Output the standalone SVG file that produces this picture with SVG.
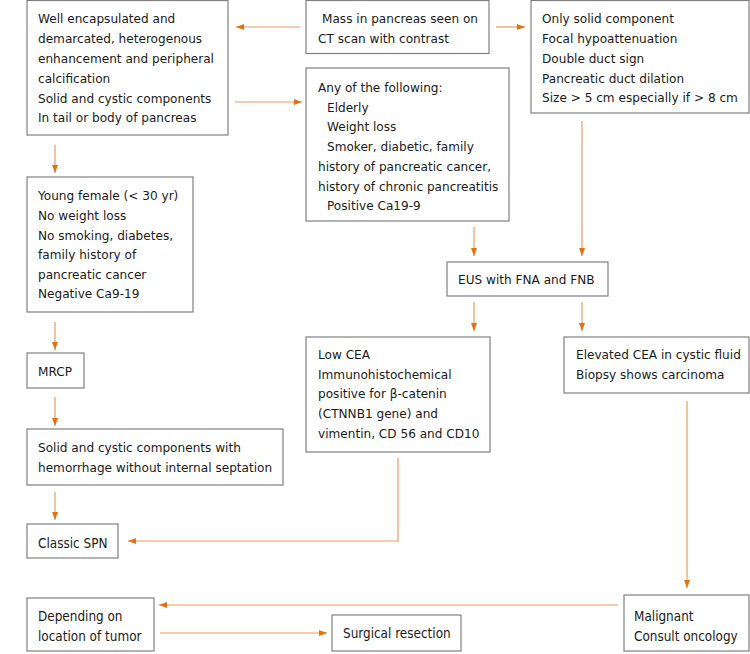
<svg xmlns="http://www.w3.org/2000/svg" width="750" height="654" viewBox="0 0 750 654">
<defs>
<style>
.box{fill:#fff;stroke:#808080;stroke-width:1.2}
.t{font-family:"DejaVu Sans",Verdana,sans-serif;font-size:12.1px;fill:#1a1a1a}
.c{font-family:"DejaVu Sans Condensed","DejaVu Sans",sans-serif;font-size:13.4px;fill:#1a1a1a}
.ln{fill:none;stroke:#EE9A5A;stroke-width:1.2}
</style>
<marker id="ah" viewBox="0 0 8 6" refX="8" refY="3" markerWidth="8" markerHeight="6" markerUnits="userSpaceOnUse" orient="auto">
<path d="M0,0 L8,3 L0,6 Z" fill="#E4700F"/>
</marker>
</defs>
<rect width="750" height="654" fill="#fff"/>
<g id="connectors">
<path class="ln" d="M300,27 H236" marker-end="url(#ah)"/>
<path class="ln" d="M235,102 H302" marker-end="url(#ah)"/>
<path class="ln" d="M496,27 H525" marker-end="url(#ah)"/>
<path class="ln" d="M55,145 V173" marker-end="url(#ah)"/>
<path class="ln" d="M55,322 V350" marker-end="url(#ah)"/>
<path class="ln" d="M55,397 V426" marker-end="url(#ah)"/>
<path class="ln" d="M55,492 V520" marker-end="url(#ah)"/>
<path class="ln" d="M474,227 V256" marker-end="url(#ah)"/>
<path class="ln" d="M582,121 V256" marker-end="url(#ah)"/>
<path class="ln" d="M474,302 V331" marker-end="url(#ah)"/>
<path class="ln" d="M582,302 V331" marker-end="url(#ah)"/>
<path class="ln" d="M398,458 V541 H128" marker-end="url(#ah)"/>
<path class="ln" d="M687,401 V588" marker-end="url(#ah)"/>
<path class="ln" d="M618,605 H159" marker-end="url(#ah)"/>
<path class="ln" d="M160,633 H327" marker-end="url(#ah)"/>
</g>
<g id="n1"><rect class="box" x="27" y="0.5" width="201" height="134.5"/>
<text class="t" x="38"><tspan x="38" y="23">Well encapsulated and</tspan><tspan x="38" y="43">demarcated, heterogenous</tspan><tspan x="38" y="63">enhancement and peripheral</tspan><tspan x="38" y="83">calcification</tspan><tspan x="38" y="103">Solid and cystic components</tspan><tspan x="38" y="122">In tail or body of pancreas</tspan></text></g>
<g id="n2"><rect class="box" x="306" y="0.5" width="183" height="53"/>
<text class="t"><tspan x="322" y="23">Mass in pancreas seen on</tspan><tspan x="318" y="43">CT scan with contrast</tspan></text></g>
<g id="n3"><rect class="box" x="531" y="0.5" width="218" height="112.5"/>
<text class="t"><tspan x="542" y="23">Only solid component</tspan><tspan x="542" y="43">Focal hypoattenuation</tspan><tspan x="542" y="63">Double duct sign</tspan><tspan x="542" y="83">Pancreatic duct dilation</tspan><tspan x="542" y="102">Size &gt; 5 cm especially if &gt; 8 cm</tspan></text></g>
<g id="n4"><rect class="box" x="306" y="68" width="203" height="153"/>
<text class="t"><tspan x="318" y="92">Any of the following:</tspan><tspan x="327" y="112">Elderly</tspan><tspan x="327" y="131">Weight loss</tspan><tspan x="327" y="151">Smoker, diabetic, family</tspan><tspan x="318" y="171">history of pancreatic cancer,</tspan><tspan x="318" y="191">history of chronic pancreatitis</tspan><tspan x="327" y="210">Positive Ca19-9</tspan></text></g>
<g id="n5"><rect class="box" x="27" y="177" width="166" height="135"/>
<text class="t"><tspan x="38" y="200">Young female (&lt; 30 yr)</tspan><tspan x="38" y="220">No weight loss</tspan><tspan x="38" y="240">No smoking, diabetes,</tspan><tspan x="38" y="259">family history of</tspan><tspan x="38" y="279">pancreatic cancer</tspan><tspan x="38" y="298">Negative Ca9-19</tspan></text></g>
<g id="n6"><rect class="box" x="27" y="353" width="57" height="35"/>
<text class="t" x="38" y="376">MRCP</text></g>
<g id="n7"><rect class="box" x="27" y="429" width="256" height="56"/>
<text class="t"><tspan x="38" y="452">Solid and cystic components with</tspan><tspan x="38" y="472">hemorrhage without internal septation</tspan></text></g>
<g id="n8"><rect class="box" x="447" y="262" width="161" height="34"/>
<text class="t" x="458" y="284">EUS with FNA and FNB</text></g>
<g id="n9"><rect class="box" x="306" y="337" width="184" height="115"/>
<text class="t"><tspan x="318" y="359">Low CEA</tspan><tspan x="318" y="379">Immunohistochemical</tspan><tspan x="318" y="398">positive for β-catenin</tspan><tspan x="318" y="418">(CTNNB1 gene) and</tspan><tspan x="318" y="438">vimentin, CD 56 and CD10</tspan></text></g>
<g id="n10"><rect class="box" x="564" y="337" width="185" height="56"/>
<text class="t"><tspan x="576" y="359">Elevated CEA in cystic fluid</tspan><tspan x="576" y="379">Biopsy shows carcinoma</tspan></text></g>
<g id="n11"><rect class="box" x="27" y="524" width="91" height="34"/>
<text class="c" x="38" y="548">Classic SPN</text></g>
<g id="n12"><rect class="box" x="27" y="598" width="127" height="53"/>
<text class="c"><tspan x="38" y="621">Depending on</tspan><tspan x="38" y="641">location of tumor</tspan></text></g>
<g id="n13"><rect class="box" x="332" y="615" width="129" height="36"/>
<text class="c" x="343" y="638">Surgical resection</text></g>
<g id="n14"><rect class="box" x="624" y="595" width="125" height="56"/>
<text class="c"><tspan x="634" y="621">Malignant</tspan><tspan x="634" y="641">Consult oncology</tspan></text></g>
</svg>
